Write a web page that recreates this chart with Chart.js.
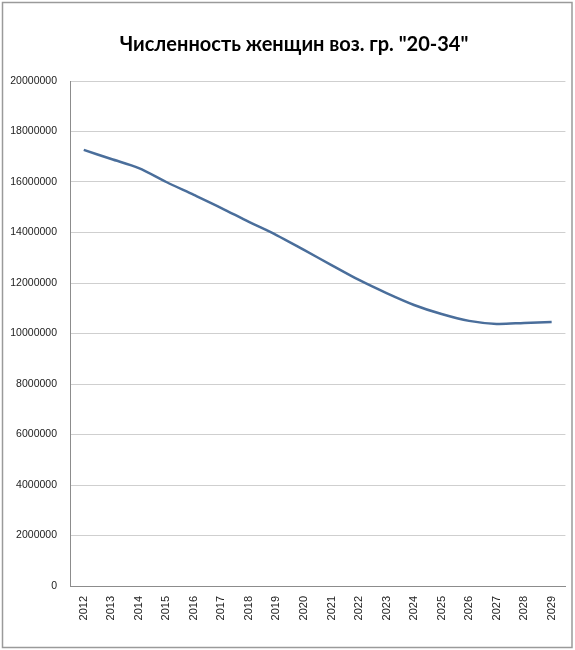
<!DOCTYPE html>
<html>
<head>
<meta charset="utf-8">
<script src="https://cdn.jsdelivr.net/npm/chart.js@4/dist/chart.umd.min.js"></script>
<style>
  body { margin: 0; background: #fff; }
</style>
</head>
<body>
<canvas id="LineChart" width="575" height="650"></canvas>
<script>
const years = ["2012", "2013", "2014", "2015", "2016", "2017", "2018", "2019", "2020",
  "2021", "2022", "2023", "2024", "2025", "2026", "2027", "2028", "2029"];
const women = [17270000, 16910000, 16550000, 16000000, 15490000, 14970000, 14420000, 13900000, 13310000,
  12710000, 12120000, 11600000, 11130000, 10770000, 10500000, 10380000, 10420000, 10460000];
const yTicks = [0, 2000000, 4000000, 6000000, 8000000, 10000000, 12000000, 14000000, 16000000, 18000000, 20000000];
const titleText = 'Численность женщин воз. гр. "20-34"';

// outer frame round the whole chart + title
const frame = {
  id: "frame",
  beforeDraw(chart) {
    const ctx = chart.ctx;
    ctx.save();
    ctx.fillStyle = "#fff";
    ctx.fillRect(0, 0, chart.width, chart.height);
    ctx.strokeStyle = "#9a9a9a";
    ctx.lineWidth = 1.5;
    ctx.strokeRect(2.5, 2.5, 569.5, 645);
    ctx.fillStyle = "#000";
    ctx.font = "bold 20px Lato";
    ctx.textAlign = "center";
    ctx.textBaseline = "middle";
    ctx.fillText(titleText, 294, 45);
    ctx.restore();
  },
};

const data = {
  labels: years,
  datasets: [
    {
      label: "Численность женщин",
      data: women,
      borderColor: "#4a6e9b",
      borderWidth: 2.5,
      pointRadius: 0,
      tension: 0.3,
      fill: false,
    },
  ],
};

const config = {
  type: "line",
  data,
  options: {
    responsive: false,
    animation: false,
    layout: { padding: { left: 0, right: 5, top: 81, bottom: 0 } },
    plugins: {
      legend: { display: false },
      tooltip: { enabled: false },
      title: { display: false },
    },
    scales: {
      x: {
        offset: true,
        grid: { display: false, drawTicks: false },
        border: { display: true, color: "#8c8c8c", width: 1 },
        ticks: {
          minRotation: 90,
          maxRotation: 90,
          autoSkip: false,
          padding: 10,
          color: "#222",
          font: { family: "Liberation Sans", size: 11 },
        },
        afterFit(scale) { scale.height = 64; },
      },
      y: {
        min: 0,
        max: 20000000,
        afterBuildTicks(scale) { scale.ticks = yTicks.map(v => ({ value: v })); },
        grid: { color: "#cfcfcf", lineWidth: 1, drawTicks: false },
        border: { display: true, color: "#8c8c8c", width: 1 },
        ticks: {
          padding: 13,
          color: "#222",
          font: { family: "Liberation Sans", size: 10.5 },
          callback: v => String(v),
        },
        afterFit(scale) { scale.width = 70; },
      },
    },
  },
  plugins: [frame],
};

const LineChart = new Chart(document.getElementById("LineChart"), config);
</script>
</body>
</html>
